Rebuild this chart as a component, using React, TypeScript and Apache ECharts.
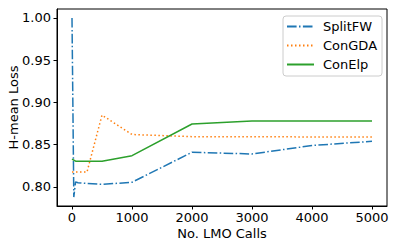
import React, { useEffect, useRef } from "react";
import * as echarts from "echarts";

const xSplitFW = [0, 30, 60, 100, 250, 500, 1000, 2000, 3000, 4000, 5000];
const ySplitFW = [1.0, 0.788, 0.806, 0.805, 0.804, 0.803, 0.8055, 0.841, 0.839, 0.849, 0.854];
const xConGDA = [0, 250, 500, 1000, 2000, 3000, 4000, 5000];
const yConGDA = [0.8176, 0.8176, 0.885, 0.862, 0.8595, 0.8593, 0.8592, 0.8592];
const xConElp = [0, 60, 500, 1000, 2000, 3000, 4000, 5000];
const yConElp = [0.833, 0.8305, 0.8305, 0.837, 0.8745, 0.878, 0.878, 0.878];
const xTicks = [0, 1000, 2000, 3000, 4000, 5000];
const yTicks = [0.8, 0.85, 0.9, 0.95, 1.0];
const seriesNames = ["SplitFW", "ConGDA", "ConElp"];

const FONT = "DejaVu Sans";
const FS = 13;

function pairs(xs: number[], ys: number[]) {
  return xs.map((x, i) => [x, ys[i]]);
}

export default function App() {
  const ref = useRef<HTMLDivElement>(null);
  useEffect(() => {
    if (!ref.current) return;
    const chart = echarts.init(ref.current, undefined, { renderer: "svg" });
    const lw = 1.5;
    chart.setOption({
      animation: false,
      backgroundColor: "#ffffff",
      textStyle: { fontFamily: FONT },
      grid: {
        left: 57,
        right: 11,
        top: 9,
        bottom: 44,
        containLabel: false,
        outerBoundsMode: "none",
        show: true,
        borderColor: "#000",
        borderWidth: 1,
        backgroundColor: "transparent",
      },
      xAxis: {
        type: "value",
        min: -250,
        max: 5250,
        name: "No. LMO Calls",
        nameLocation: "middle",
        nameGap: 21,
        nameMoveOverlap: false,
        nameTextStyle: { fontFamily: FONT, fontSize: FS, color: "#000" },
        axisLine: { show: true, onZero: false, lineStyle: { color: "#000", width: 1 } },
        axisTick: { show: true, length: 3.5, lineStyle: { color: "#000" }, customValues: xTicks },
        axisLabel: {
          customValues: xTicks,
          fontFamily: FONT,
          fontSize: FS,
          color: "#000",
          margin: 4.5,
          formatter: (v: number) => String(v),
        },
        splitLine: { show: false },
      },
      yAxis: {
        type: "value",
        min: 0.7774,
        max: 1.0106,
        name: "H-mean Loss",
        nameLocation: "middle",
        nameGap: 37,
        nameMoveOverlap: false,
        nameTextStyle: { fontFamily: FONT, fontSize: FS, color: "#000" },
        axisLine: { show: true, onZero: false, lineStyle: { color: "#000", width: 1 } },
        axisTick: { show: true, length: 3.5, lineStyle: { color: "#000" }, customValues: yTicks },
        axisLabel: {
          customValues: yTicks,
          fontFamily: FONT,
          fontSize: FS,
          color: "#000",
          margin: 6,
          formatter: (v: number) => v.toFixed(2),
        },
        splitLine: { show: false },
      },
      legend: {
        data: seriesNames,
        orient: "vertical",
        left: 283,
        top: 16,
        padding: [3, 5, 4, 3],
        itemWidth: 27,
        itemHeight: 15,
        itemGap: 4,
        backgroundColor: "rgba(255,255,255,0.8)",
        borderColor: "#cccccc",
        borderWidth: 1,
        borderRadius: 3,
        itemStyle: { opacity: 0, borderWidth: 0 },
        textStyle: { fontFamily: FONT, fontSize: FS, color: "#000", padding: [0, 0, 0, 4], lineHeight: 15 },
      },
      series: [
        {
          name: seriesNames[0],
          type: "line",
          data: pairs(xSplitFW, ySplitFW),
          symbol: "none",
          color: "#1f77b4",
          lineStyle: { color: "#1f77b4", width: lw, type: [9.6, 2.4, 1.5, 2.4] },
        },
        {
          name: seriesNames[1],
          type: "line",
          data: pairs(xConGDA, yConGDA),
          symbol: "none",
          color: "#ff7f0e",
          lineStyle: { color: "#ff7f0e", width: lw, type: [1.5, 2.5] },
        },
        {
          name: seriesNames[2],
          type: "line",
          data: pairs(xConElp, yConElp),
          symbol: "none",
          color: "#2ca02c",
          lineStyle: { color: "#2ca02c", width: lw, type: "solid" },
        },
      ],
    });
    return () => chart.dispose();
  }, []);
  return (
    <div
      ref={ref}
      style={{ position: "fixed", left: 0, top: 0, width: 398, height: 250 }}
    />
  );
}
